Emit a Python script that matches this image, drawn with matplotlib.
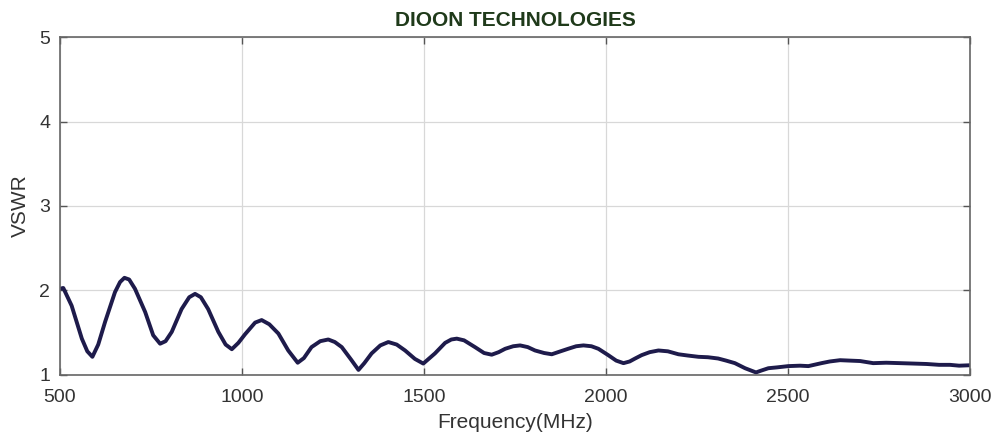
import matplotlib
matplotlib.use("Agg")
import matplotlib.pyplot as plt

# VSWR sweep
freq_mhz = [500, 509, 532, 560, 575, 589, 605, 624, 651, 665, 677, 690, 706, 734, 756, 775,
            790, 807, 834, 855, 871, 887, 907, 935, 955, 972, 990, 1008, 1036, 1054, 1075,
            1100, 1127, 1153, 1170, 1191, 1215, 1237, 1255, 1274, 1300, 1320, 1336, 1356,
            1380, 1402, 1425, 1448, 1475, 1498, 1530, 1558, 1575, 1590, 1610, 1640, 1665,
            1686, 1705, 1723, 1745, 1764, 1785, 1805, 1830, 1851, 1875, 1896, 1918, 1938,
            1960, 1979, 2006, 2028, 2048, 2065, 2080, 2098, 2120, 2144, 2170, 2199, 2225,
            2254, 2280, 2308, 2330, 2354, 2382, 2400, 2412, 2425, 2446, 2470, 2501, 2533,
            2556, 2592, 2615, 2643, 2670, 2698, 2734, 2770, 2808, 2845, 2881, 2915, 2945,
            2970, 3000]
vswr = [2.02, 2.03, 1.82, 1.43, 1.28, 1.215, 1.36, 1.63, 1.98, 2.10, 2.15, 2.13, 2.02,
        1.745, 1.47, 1.37, 1.40, 1.51, 1.78, 1.92, 1.96, 1.92, 1.78, 1.51, 1.36, 1.305,
        1.38, 1.48, 1.62, 1.65, 1.60, 1.49, 1.29, 1.145, 1.20, 1.33, 1.40, 1.42, 1.39,
        1.33, 1.18, 1.06, 1.14, 1.255, 1.35, 1.39, 1.36, 1.29, 1.19, 1.135, 1.255, 1.38,
        1.42, 1.43, 1.41, 1.33, 1.26, 1.24, 1.27, 1.31, 1.34, 1.35, 1.33, 1.29, 1.26,
        1.245, 1.28, 1.31, 1.34, 1.35, 1.34, 1.31, 1.235, 1.17, 1.14, 1.16, 1.195, 1.235,
        1.27, 1.29, 1.28, 1.245, 1.23, 1.215, 1.21, 1.195, 1.17, 1.14, 1.08, 1.05, 1.03,
        1.05, 1.08, 1.09, 1.105, 1.11, 1.105, 1.14, 1.16, 1.175, 1.17, 1.165, 1.14, 1.145,
        1.14, 1.135, 1.13, 1.12, 1.12, 1.11, 1.115]

x_ticks = [500, 1000, 1500, 2000, 2500, 3000]
y_ticks = [1, 2, 3, 4, 5]

plt.rcParams['font.family'] = ['Liberation Sans', 'DejaVu Sans']

fig = plt.figure(figsize=(9.95, 4.34), dpi=100)
ax = fig.add_axes([0.0603, 0.136, 0.9146, 0.7787])

ax.plot(freq_mhz, vswr, color='#1e1b4b', lw=2.8, solid_joinstyle='round')

ax.set_xlim(500, 3000)
ax.set_ylim(1, 5)
ax.set_xticks(x_ticks)
ax.set_yticks(y_ticks)
ax.grid(True, color='#d8d8d8', lw=0.9)
ax.set_axisbelow(True)
ax.tick_params(direction='in', length=5, width=1, color='#555555',
               labelcolor='#333333', labelsize=14, top=True, right=True)
ax.tick_params(axis='x', pad=10)
ax.tick_params(axis='y', pad=7)
for s in ax.spines.values():
    s.set_color('#666666')
    s.set_linewidth(1.2)

ax.set_xlabel('Frequency(MHz)', fontsize=15, color='#333333', labelpad=5)
ax.set_ylabel('VSWR', fontsize=15, color='#333333', labelpad=7)
ax.set_title('DIOON TECHNOLOGIES', fontsize=15, fontweight='bold', color='#1f3a1a', pad=8)

fig.savefig('out.png', dpi=100)
